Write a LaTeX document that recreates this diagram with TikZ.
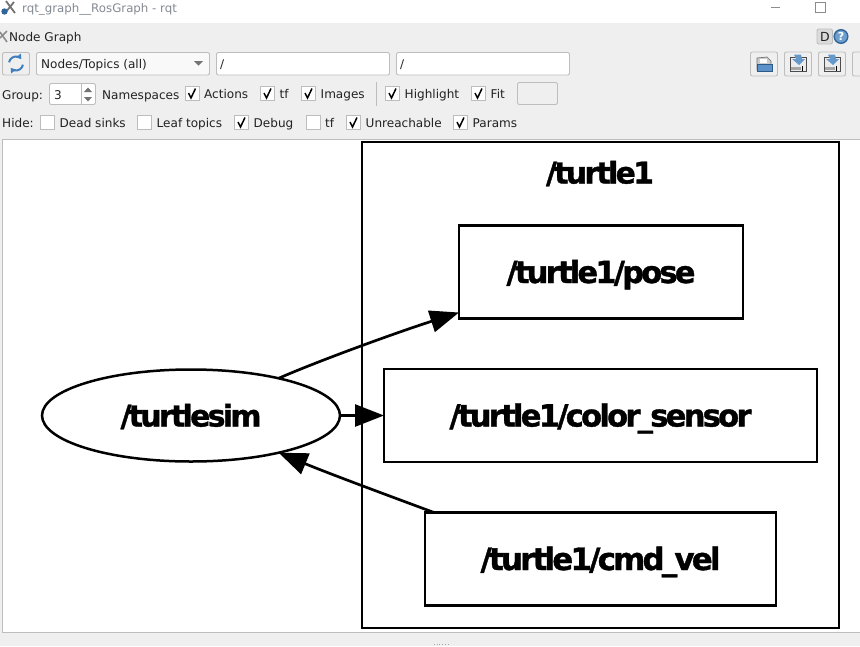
\documentclass[tikz,border=0pt]{standalone}
\usepackage{fontspec}
\setmainfont{DejaVu Sans}
\newfontfamily\gfont[BoldFeatures={FakeBold=1.2,LetterSpace=-9}]{DejaVu Sans}
\usepackage{graphicx}
\usetikzlibrary{shapes.geometric,arrows.meta}
\definecolor{panel}{HTML}{EFEFEF}
\definecolor{wborder}{HTML}{BDBDBD}
\definecolor{uitext}{HTML}{222222}
\definecolor{titletext}{HTML}{858B94}
\definecolor{iconblue}{HTML}{3F7FBF}
\tikzset{
  uilabel/.style={anchor=base west,inner sep=0pt,text=uitext,font=\fontsize{12.05}{14}\selectfont},
  field/.style={draw=wborder,fill=white,rounded corners=2pt,line width=0.9pt},
  btn/.style={draw=wborder,fill=panel,rounded corners=2pt,line width=0.9pt},
  cbox/.style={draw=wborder,fill=white,line width=0.9pt},
  tick/.style={draw=black,line width=1.5pt},
  gfontstyle/.style={font=\fontsize{32}{36}\gfont\bfseries},
  gbox/.style={draw=black,line width=2.7pt,fill=white,rectangle,inner sep=0pt,outer sep=0pt,gfontstyle},
  edge/.style={draw=black,line width=2.7pt,-{Triangle[length=29pt,width=22pt]}},
}
\newcommand{\gtext}[2]{\smash{\raisebox{-11pt}{\resizebox{#1}{!}{#2}}}}
\newcommand{\chk}[4]{% x, y-centre, name, text
  \path[cbox] (#1,#2-7) rectangle ++(14,14);
  \draw[tick] (#1+3.5,#2-0.5) -- (#1+6,#2+4.5) -- (#1+10.5,#2-5);
  \node[uilabel] (#3) at (#1+19,#2+5) {#4};
}
\newcommand{\nochk}[4]{%
  \path[cbox] (#1,#2-7) rectangle ++(14,14);
  \node[uilabel] (#3) at (#1+19,#2+5) {#4};
}
\newcommand{\saveicon}[1]{% x centre
  \path[btn] (#1-13.5,52) rectangle (#1+13.5,76);
  \path[draw=black!70,fill=black!8,line width=0.8pt] (#1-8,57) rectangle (#1+8,71.5);
  \path[fill=iconblue!80] (#1-4,54.5) -- (#1+3,54.5) -- (#1+4,59) -- (#1+7,59) -- (#1+1,65) -- (#1-6,59) -- (#1-2,59) -- cycle;
  \path[fill=black!35] (#1-7,66.5) rectangle (#1+3,70);
  \draw[black,line width=0.8pt] (#1+4,66) -- (#1+4,71);
}
\begin{document}
\begin{tikzpicture}[x=1pt,y=-1pt]
\useasboundingbox (0,0) rectangle (860,646);
\fill[panel] (0,0) rectangle (860,646);
% title bar
\fill[white] (0,0) rectangle (860,23);
\draw[black!55,line width=1.8pt] (5,13) -- (14,2);
\draw[black!55,line width=1.8pt] (6,1) -- (15,13);
\fill[iconblue!80!black] (4.5,11.5) circle (3.2);
\node[anchor=base west,inner sep=0pt,text=titletext,font=\fontsize{11.8}{14}\selectfont] (wintitle) at (22,12) {rqt\_graph\_\_RosGraph - rqt};
\draw[black!45,line width=0.7pt] (771,7.5) -- (780,7.5);
\draw[black!45,line width=0.7pt] (815.5,2.5) rectangle (825,12);
% plugin bar
\draw[black!45,line width=1.6pt] (0,32) -- (7,42);
\draw[black!45,line width=1.6pt] (7,31) -- (0,38);
\node[uilabel] (plugintitle) at (9,41) {Node Graph};
\path[draw=wborder,fill=black!14,rounded corners=2pt,line width=0.9pt] (817,29) rectangle (832.5,44);
\node[anchor=base,inner sep=0pt,text=uitext,font=\fontsize{12.5}{14}\selectfont] (dbtn) at (825,41) {D};
\path[draw=iconblue!80!black,fill=iconblue!75,line width=1.4pt] (841,36.5) circle (6.8);
\node[inner sep=0pt,text=white,font=\fontsize{11}{12}\selectfont\bfseries] (helpq) at (841,36.5) {?};
% row 1
\path[btn] (2.5,52.5) rectangle (29.5,75);
\draw[iconblue,line width=2pt,-{Triangle[length=4.5pt,width=6pt]}] (9.1,62.3) arc[start angle=190,end angle=320,radius=7];
\draw[iconblue,line width=2pt,-{Triangle[length=4.5pt,width=6pt]}] (22.9,64.7) arc[start angle=10,end angle=140,radius=7];
\path[btn,fill=white!60!panel] (36.5,52.5) rectangle (209.5,75);
\node[uilabel] (combo) at (41,68) {Nodes/Topics (all)};
\fill[black!55] (194,61) -- (203,61) -- (198.5,65.5) -- cycle;
\path[field] (216.5,52.5) rectangle (389.5,75);
\node[uilabel] (ns1) at (220,68) {/};
\path[field] (396.5,52.5) rectangle (569.5,75);
\node[uilabel] (ns2) at (400,68) {/};
\path[btn] (750.5,52) rectangle (777.5,76);
\path[draw=black!55,fill=black!20,line width=0.7pt] (757,58) -- (767,57) -- (771,61) -- (771,70) -- (757,70) -- cycle;
\path[draw=white,fill=white,line width=0.5pt] (760,59) rectangle (766,62);
\path[draw=iconblue!70!black,fill=iconblue!85,line width=0.6pt] (757,64) rectangle (772,71);
\saveicon{798}
\saveicon{832}
\path[btn] (852.5,52) -- (862,52) -- (862,76) -- (852.5,76) -- cycle;
% row 2
\node[uilabel] (grouplbl) at (2,99) {Group:};
\path[field] (49.5,83.5) rectangle (95.5,104.5);
\draw[wborder,line width=0.8pt] (81.5,84) -- (81.5,104);
\node[uilabel] (groupval) at (54,99) {3};
\fill[black!55] (84,92) -- (92,92) -- (88,87.5) -- cycle;
\fill[black!55] (84,97) -- (92,97) -- (88,101.5) -- cycle;
\node[uilabel] (nslbl) at (102,99) {Namespaces};
\chk{185}{93.5}{actions}{Actions}
\chk{260.5}{93.5}{tfa}{tf}
\chk{301.5}{93.5}{images}{Images}
\draw[wborder,line width=0.9pt] (376.5,82) -- (376.5,106);
\chk{385.5}{93.5}{highlight}{Highlight}
\chk{471.5}{93.5}{fit}{Fit}
\path[btn] (517.5,82.5) rectangle (557.5,104.5);
% row 3
\node[uilabel] (hidelbl) at (2,127) {Hide:};
\nochk{40.5}{122.5}{deadsinks}{Dead sinks}
\nochk{137.5}{122.5}{leaftopics}{Leaf topics}
\chk{234.5}{122.5}{debug}{Debug}
\nochk{306}{122.5}{tfb}{tf}
\chk{346.5}{122.5}{unreach}{Unreachable}
\chk{453.5}{122.5}{params}{Params}
% canvas
\path[draw=wborder,fill=white,line width=0.9pt] (2.5,139.5) rectangle (861,632);
\foreach \dotx in {434,436.7,439.4,442.1,444.8,447.5}
  \fill[black!35] (\dotx,644) rectangle ++(1,1);
% graph
\node[gbox,minimum width=477pt,minimum height=486pt] (cluster) at (600.5,385) {};
\node[inner sep=0pt,gfontstyle] (clusterlbl) at (600,172.5) {\gtext{108pt}{/turtle1}};
\node[gbox,minimum width=284pt,minimum height=93pt] (pose) at (601,272) {\gtext{189pt}{/turtle1/pose}};
\node[gbox,minimum width=433pt,minimum height=93pt] (color) at (600.5,415.5) {\gtext{302pt}{/turtle1/color\_sensor}};
\node[gbox,minimum width=351pt,minimum height=93pt] (cmd) at (600.5,559) {\gtext{240pt}{/turtle1/cmd\_vel}};
\node[draw=black,line width=2.5pt,fill=white,ellipse,minimum width=298pt,minimum height=92pt,inner sep=0pt,outer sep=0pt,gfontstyle] (sim) at (191,415.5) {\gtext{141pt}{/turtlesim}};
\draw[edge] (sim.23.6) .. controls (318,361) and (398,332) .. ([yshift=6pt]pose.south west);
\draw[edge] (sim.east) -- (color.west);
\draw[edge] ([xshift=9pt]cmd.north west) .. controls (395,498) and (330,474) .. (sim.-23.6);
\end{tikzpicture}
\end{document}
